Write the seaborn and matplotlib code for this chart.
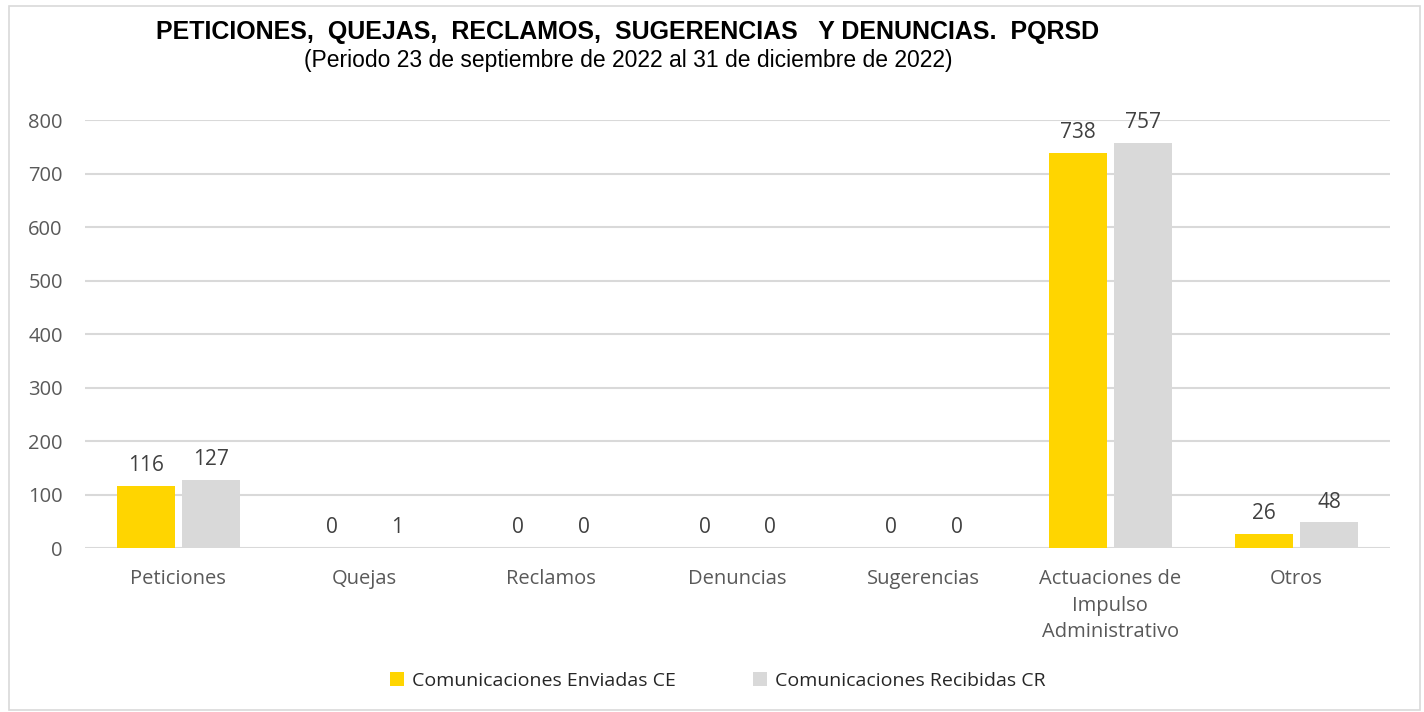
import pandas as pd
import seaborn as sns
import matplotlib.pyplot as plt
from matplotlib.patches import Rectangle

# Data
categorias = ['Peticiones', 'Quejas', 'Reclamos', 'Denuncias', 'Sugerencias',
              'Actuaciones de\nImpulso\nAdministrativo', 'Otros']
enviadas = [116, 0, 0, 0, 0, 738, 26]
recibidas = [127, 1, 0, 0, 0, 757, 48]
series = ['Comunicaciones Enviadas CE', 'Comunicaciones Recibidas CR']
colores = ['#FFD500', '#D9D9D9']

df = pd.DataFrame({
    'categoria': categorias * 2,
    'valor': enviadas + recibidas,
    'serie': [series[0]] * len(categorias) + [series[1]] * len(categorias),
})

sns.set_theme(style='white')
plt.rcParams['font.family'] = ['Open Sans', 'DejaVu Sans']

fig = plt.figure(figsize=(14.24, 7.12), dpi=100)
ax = fig.add_axes([0.0597, 0.2303, 0.9163, 0.6011])

sns.barplot(data=df, x='categoria', y='valor', hue='serie', palette=colores,
            width=0.7, gap=0.11, saturation=1, linewidth=0, ax=ax, legend=True)

ax.set_ylim(0, 800)
ax.set_yticks(range(0, 801, 100))
ax.grid(axis='y', color='#D9D9D9', linewidth=1.5)
ax.set_axisbelow(True)
for s in ax.spines.values():
    s.set_visible(False)
ax.set_xlabel('')
ax.set_ylabel('')
ax.tick_params(axis='both', length=0, labelsize=14.5, colors='#595959')
ax.tick_params(axis='x', pad=15)
ax.tick_params(axis='y', pad=16)
for lbl in ax.get_xticklabels():
    lbl.set_linespacing(1.45)

# value labels
for cont in ax.containers:
    ax.bar_label(cont, padding=7, fontsize=15, color='#404040')

# legend at the bottom
leg = ax.legend(loc='center', bbox_to_anchor=(0.485, -0.31), ncol=2, frameon=False,
                fontsize=14, handlelength=0.7, handleheight=0.7, columnspacing=4,
                handletextpad=0.4)
for t in leg.get_texts():
    t.set_color('#262626')

# titles
fig.text(0.441, 0.955, 'PETICIONES,  QUEJAS,  RECLAMOS,  SUGERENCIAS   Y DENUNCIAS.  PQRSD',
         ha='center', va='center', fontsize=18, fontweight='bold',
         family=['Liberation Sans Narrow', 'Liberation Sans', 'DejaVu Sans'], color='black')
fig.text(0.441, 0.915, '(Periodo 23 de septiembre de 2022 al 31 de diciembre de 2022)',
         ha='center', va='center', fontsize=16.5,
         family=['Liberation Sans Narrow', 'Liberation Sans', 'DejaVu Sans'], color='black')

# chart area border
fig.patches.append(Rectangle((0.006, 0.003), 0.991, 0.988, transform=fig.transFigure,
                             fill=False, edgecolor='#D9D9D9', linewidth=1.2))

fig.savefig('out.png', dpi=100)
